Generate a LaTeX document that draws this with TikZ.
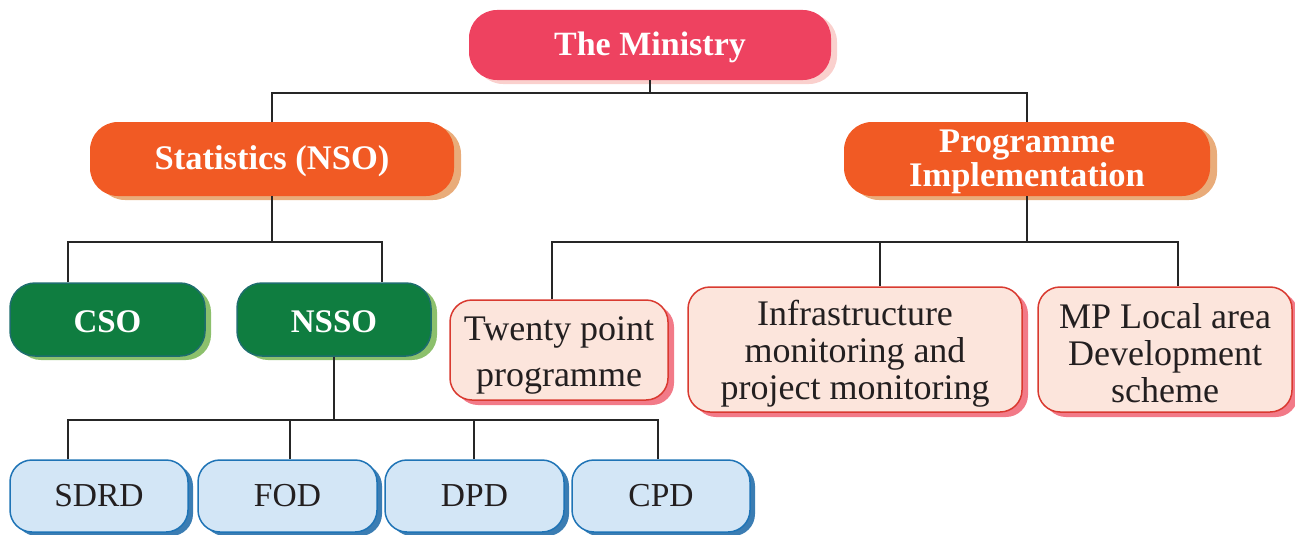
\documentclass[tikz,border=0pt]{standalone}
\usepackage{fontspec}
\setmainfont{Liberation Serif}
\usetikzlibrary{shadows}
\definecolor{minfill}{HTML}{EE4260}
\definecolor{minshad}{HTML}{FAD0CD}
\definecolor{orfill}{HTML}{F15A24}
\definecolor{orshad}{HTML}{E9AC7A}
\definecolor{grfill}{HTML}{0F7D40}
\definecolor{grdraw}{HTML}{1E6E6E}
\definecolor{grshad}{HTML}{8CC06C}
\definecolor{blfill}{HTML}{D3E6F6}
\definecolor{bldraw}{HTML}{1F74B6}
\definecolor{blshad}{HTML}{3B7DB3}
\definecolor{pkfill}{HTML}{FCE5DC}
\definecolor{pkdraw}{HTML}{D93A30}
\definecolor{pkshad}{HTML}{F27A88}
\definecolor{txt}{HTML}{231F20}
\newcommand{\myup}[1]{\rule{0pt}{#1}}
\tikzset{
  base/.style={rectangle, inner sep=0pt, align=center, font=\fontsize{33.5}{36}\selectfont},
  topbox/.style={base, fill=minfill, rounded corners=28pt, text=white, font=\fontsize{34}{36}\selectfont\bfseries,
    drop shadow={fill=minshad, opacity=1, shadow xshift=6pt, shadow yshift=-4pt}},
  orbox/.style={base, fill=orfill, rounded corners=28pt, text=white, font=\fontsize{34.5}{34}\selectfont\bfseries,
    drop shadow={fill=orshad, opacity=1, shadow xshift=7pt, shadow yshift=-4pt}},
  grbox/.style={base, fill=grfill, draw=grdraw, line width=1.5pt, rounded corners=25pt, text=white, font=\fontsize{33}{36}\selectfont\bfseries,
    drop shadow={fill=grshad, opacity=1, shadow xshift=6pt, shadow yshift=-4pt}},
  blbox/.style={base, fill=blfill, draw=bldraw, line width=1.5pt, rounded corners=22pt, text=txt,
    drop shadow={fill=blshad, opacity=1, shadow xshift=5pt, shadow yshift=-4pt}},
  pkbox/.style={base, fill=pkfill, draw=pkdraw, line width=1.5pt, rounded corners=22pt, text=txt, font=\fontsize{36}{37}\selectfont,
    drop shadow={fill=pkshad, opacity=1, shadow xshift=6pt, shadow yshift=-5pt}},
  conn/.style={line width=2pt, draw=black!85}
}
\begin{document}
\begin{tikzpicture}[x=1pt, y=-1pt]
\useasboundingbox (0,0) rectangle (1295,535);
\coordinate (bus1) at (650,93);
\coordinate (ba) at (68,242);
\coordinate (bb) at (382,242);
\coordinate (c1) at (68,420);
\coordinate (c2) at (290,420);
\coordinate (c3) at (474,420);
\coordinate (c4) at (658,420);
\coordinate (p1) at (552,242);
\coordinate (p2) at (880,242);
\coordinate (p3) at (1178,242);

\node[topbox, minimum width=362pt, minimum height=70pt] (min) at (650,45) {\myup{29pt}The Ministry};
\node[orbox, minimum width=364pt, minimum height=74pt] (stat) at (272,159) {\myup{29pt}Statistics (NSO)};
\node[orbox, minimum width=366pt, minimum height=74pt] (prog) at (1027,159) {\myup{29pt}Programme\\Implementation};
\node[grbox, minimum width=195pt, minimum height=73pt] (cso) at (107.5,319.5) {\myup{26pt}CSO};
\node[grbox, minimum width=194pt, minimum height=73pt] (nsso) at (334,319.5) {\myup{26pt}NSSO};
\node[blbox, minimum width=178pt, minimum height=72pt] (sdrd) at (99,496) {SDRD};
\node[blbox, minimum width=179pt, minimum height=72pt] (fod) at (287.5,496) {FOD};
\node[blbox, minimum width=179pt, minimum height=72pt] (dpd) at (474.5,496) {DPD};
\node[blbox, minimum width=178pt, minimum height=72pt] (cpd) at (661,496) {CPD};
\node[pkbox, font=\fontsize{36}{46}\selectfont, minimum width=218pt, minimum height=100pt] (tw) at (559,350) {\myup{35pt}Twenty point\\programme};
\node[pkbox, minimum width=334pt, minimum height=125pt] (inf) at (855,349.5) {\myup{33pt}Infrastructure\\monitoring and\\project monitoring};
\node[pkbox, minimum width=254pt, minimum height=125pt] (mp) at (1165,349.5) {\myup{32pt}MP Local area\\Development\\scheme};

\draw[conn] (min.south) -- (bus1);
\draw[conn] (stat.north) |- (bus1 -| prog.north) -- (prog.north);
\draw[conn] (stat.south) -- (stat.south |- ba);
\draw[conn] (cso.north -| ba) -- (ba) -- (bb) -- (nsso.north -| bb);
\draw[conn] (nsso.south) -- (nsso.south |- c1);
\draw[conn] (sdrd.north -| c1) -- (c1) -- (c4) -- (cpd.north -| c4);
\draw[conn] (c2) -- (fod.north -| c2);
\draw[conn] (c3) -- (dpd.north -| c3);
\draw[conn] (prog.south) -- (prog.south |- p1);
\draw[conn] (tw.north -| p1) -- (p1) -- (p3) -- (mp.north -| p3);
\draw[conn] (p2) -- (inf.north -| p2);
\end{tikzpicture}
\end{document}
